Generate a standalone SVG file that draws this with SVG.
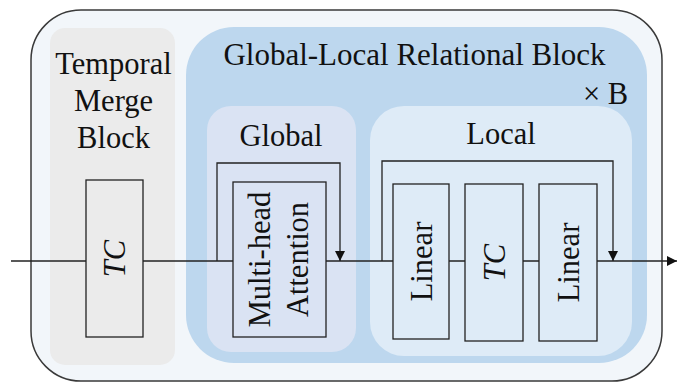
<svg xmlns="http://www.w3.org/2000/svg" width="678" height="383" viewBox="0 0 678 383">
<defs>
<style>
text{font-family:"Liberation Serif","Times New Roman","DejaVu Serif",serif;fill:#111;}
.t{font-size:30.5px;text-anchor:middle;}
.b{stroke:#222;stroke-width:1.3;}
.ln{fill:none;stroke:#222;stroke-width:1.3;}
</style>
<marker id="ah" viewBox="0 0 10 10" refX="10" refY="5" markerWidth="10" markerHeight="10" markerUnits="userSpaceOnUse" orient="auto">
<path d="M0,0 L10,5 L0,10 z" fill="#111"/>
</marker>
</defs>
<rect width="678" height="383" fill="#fff"/>
<g id="outer">
<rect x="31" y="10" width="631" height="371" rx="50" ry="50" fill="#f2f6fa" stroke="#3a3a3a" stroke-width="1.5"/>
</g>
<g id="temporal-merge">
<rect x="50" y="28" width="125" height="337" rx="15" fill="#ebebeb"/>
<text class="t" x="113.5" y="74">Temporal</text>
<text class="t" x="113.5" y="111">Merge</text>
<text class="t" x="113.5" y="148">Block</text>
</g>
<g id="glrb">
<rect x="186" y="27" width="461" height="336" rx="48" fill="#bdd7ee"/>
<text class="t" x="414.5" y="65" style="font-size:31px">Global-Local Relational Block</text>
<text class="t" x="605.5" y="104">× B</text>
</g>
<g id="global">
<rect x="207" y="106" width="149" height="246" rx="24" fill="#dae3f3"/>
<text class="t" x="281" y="146">Global</text>
</g>
<g id="local">
<rect x="370" y="106" width="262" height="250" rx="34" fill="#deebf7"/>
<text class="t" x="501" y="144">Local</text>
</g>
<g id="connectors">
<line class="ln" x1="11" y1="261" x2="677" y2="261" marker-end="url(#ah)"/>
<path class="ln" d="M217,261 V163 H340 V261" marker-end="url(#ah)"/>
<path class="ln" d="M382,261 V161 H613 V261" marker-end="url(#ah)"/>
</g>
<g id="tc1">
<rect class="b" x="86" y="180" width="57" height="157" fill="#ebebeb"/>
<text class="t" transform="translate(125,258.5) rotate(-90)" font-style="italic">TC</text>
</g>
<g id="mha">
<rect class="b" x="233" y="182" width="93" height="155" fill="#dae3f3"/>
<text class="t" transform="translate(270,259.5) rotate(-90)">Multi-head</text>
<text class="t" transform="translate(308,259.5) rotate(-90)">Attention</text>
</g>
<g id="linear1">
<rect class="b" x="393" y="184" width="56" height="155" fill="#deebf7"/>
<text class="t" transform="translate(431.5,261.5) rotate(-90)">Linear</text>
</g>
<g id="tc2">
<rect class="b" x="465" y="184" width="58" height="157" fill="#deebf7"/>
<text class="t" transform="translate(504.5,262.5) rotate(-90)" font-style="italic">TC</text>
</g>
<g id="linear2">
<rect class="b" x="539" y="184" width="58" height="157" fill="#deebf7"/>
<text class="t" transform="translate(578.5,262.5) rotate(-90)">Linear</text>
</g>
</svg>
